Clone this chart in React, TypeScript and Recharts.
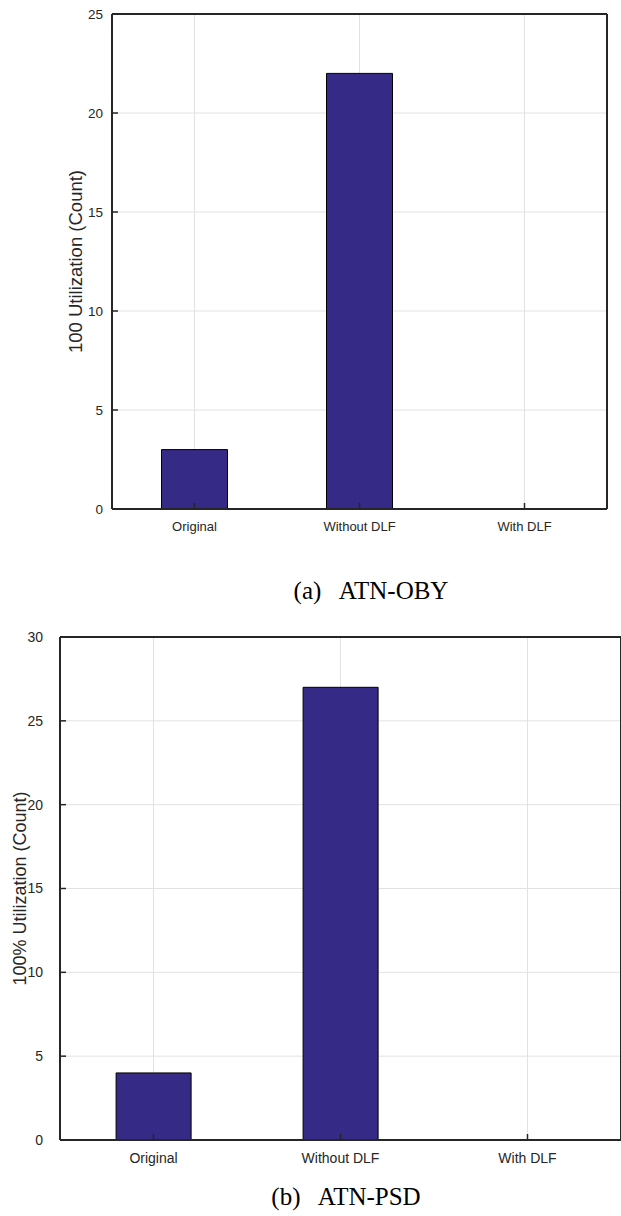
import { Bar, BarChart, CartesianGrid, XAxis, YAxis } from "recharts";

const categories = ["Original", "Without DLF", "With DLF"];
const obyCounts = [3, 22, 0];
const psdCounts = [4, 27, 0];
const obyTicks = [0, 5, 10, 15, 20, 25];
const psdTicks = [0, 5, 10, 15, 20, 25, 30];

const AXIS = "#262626";
const BAR = "#352a86";
const SANS = "'Liberation Sans', Arial, sans-serif";
const SERIF = "'Liberation Serif', 'Times New Roman', serif";

const toRows = (values: number[]) =>
  categories.map((name, i) => ({ name, count: values[i] }));

type PanelProps = {
  values: number[];
  ticks: number[];
  yLabel: string;
  width: number;
  height: number;
  margin: { top: number; right: number; bottom: number; left: number };
  yAxisWidth: number;
  labelOffset: number;
  xFont: number;
  yFont: number;
  labelFont: number;
  xTickMargin: number;
  yTickMargin: number;
};

function Panel(p: PanelProps) {
  const max = p.ticks[p.ticks.length - 1];
  const axisLine = { stroke: AXIS, strokeWidth: 2 };
  const tickLine = { stroke: AXIS, strokeWidth: 1.5 };
  return (
    <BarChart
      width={p.width}
      height={p.height}
      data={toRows(p.values)}
      margin={p.margin}
      barCategoryGap="30%"
    >
      <CartesianGrid stroke="#e2e2e2" strokeWidth={1} />
      <XAxis
        dataKey="name"
        axisLine={axisLine}
        tickLine={tickLine}
        tickSize={-6}
        tickMargin={p.xTickMargin}
        height={30}
        tick={{ fill: AXIS, fontSize: p.xFont, fontFamily: SANS }}
      />
      <XAxis
        xAxisId="top"
        dataKey="name"
        orientation="top"
        height={1}
        axisLine={axisLine}
        tickLine={tickLine}
        tickSize={-6}
        tick={false}
      />
      <YAxis
        domain={[0, max]}
        ticks={p.ticks}
        interval={0}
        width={p.yAxisWidth}
        axisLine={axisLine}
        tickLine={tickLine}
        tickSize={-6}
        tickMargin={p.yTickMargin}
        tick={{ fill: AXIS, fontSize: p.yFont, fontFamily: SANS }}
        label={{
          value: p.yLabel,
          angle: -90,
          position: "insideLeft",
          offset: p.labelOffset,
          fill: AXIS,
          fontSize: p.labelFont,
          fontFamily: SANS,
          style: { textAnchor: "middle" }
        }}
      />
      <YAxis
        yAxisId="right"
        orientation="right"
        domain={[0, max]}
        ticks={p.ticks}
        width={1}
        axisLine={axisLine}
        tickLine={tickLine}
        tickSize={-6}
        tick={false}
      />
      <Bar
        dataKey="count"
        fill={BAR}
        stroke="#000000"
        strokeWidth={1}
        isAnimationActive={false}
      />
    </BarChart>
  );
}

const captionStyle = (top: number, center: number) => ({
  position: "absolute" as const,
  top,
  left: center - 150,
  width: 300,
  textAlign: "center" as const,
  fontFamily: SERIF,
  fontSize: 25,
  lineHeight: "25px",
  color: "#000",
  whiteSpace: "pre" as const
});

export default function App() {
  return (
    <div
      style={{
        position: "absolute",
        top: 0,
        left: 0,
        width: 621,
        height: 1216,
        overflow: "hidden",
        background: "#fff"
      }}
    >
      <div style={{ position: "absolute", top: 0, left: 0 }}>
        <Panel
          values={obyCounts}
          ticks={obyTicks}
          yLabel="100 Utilization (Count)"
          width={621}
          height={560}
          margin={{ top: 13, right: 13, bottom: 21, left: 0 }}
          yAxisWidth={112}
          labelOffset={75}
          xFont={13}
          yFont={13.5}
          labelFont={18.5}
          xTickMargin={19}
          yTickMargin={15}
        />
      </div>
      <div style={captionStyle(578, 371)}>{"(a)   ATN-OBY"}</div>
      <div style={{ position: "absolute", top: 600, left: 0 }}>
        <Panel
          values={psdCounts}
          ticks={psdTicks}
          yLabel="100% Utilization (Count)"
          width={623}
          height={580}
          margin={{ top: 36, right: 1, bottom: 10, left: 0 }}
          yAxisWidth={60}
          labelOffset={20}
          xFont={14}
          yFont={14}
          labelFont={18}
          xTickMargin={19}
          yTickMargin={23}
        />
      </div>
      <div style={captionStyle(1184, 346)}>{"(b)   ATN-PSD"}</div>
    </div>
  );
}
